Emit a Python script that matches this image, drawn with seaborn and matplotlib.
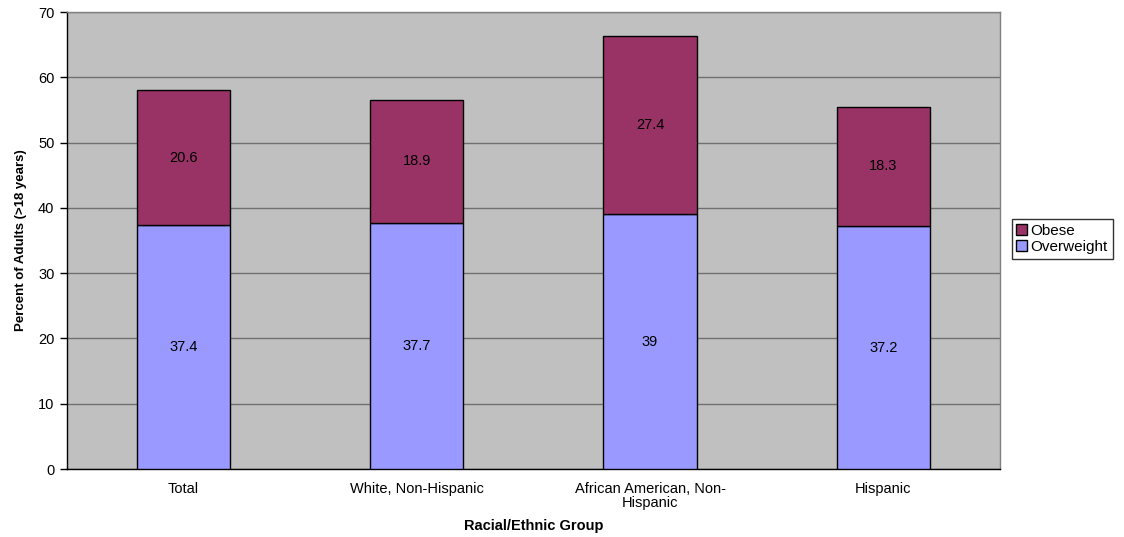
import numpy as np
import pandas as pd
import matplotlib
matplotlib.use("Agg")
import matplotlib.pyplot as plt
import seaborn as sns
from matplotlib.patches import Patch

# Data
groups = ["Total", "White, Non-Hispanic", "African American, Non-\nHispanic", "Hispanic"]
overweight = [37.4, 37.7, 39, 37.2]
obese = [20.6, 18.9, 27.4, 18.3]

df = pd.DataFrame({"Group": groups, "Overweight": overweight, "Obese": obese})

sns.set_style("white")
plt.rcParams['font.family'] = ['Liberation Sans', 'DejaVu Sans']
plt.rcParams['text.color'] = 'black'
plt.rcParams['axes.labelcolor'] = 'black'
plt.rcParams['xtick.color'] = 'black'
plt.rcParams['ytick.color'] = 'black'

blue = "#9999FF"
purple = "#993366"

fig = plt.figure(figsize=(11.24, 5.37), dpi=100)
ax = fig.add_axes([0.0596, 0.1266, 0.83, 0.851])
ax.set_facecolor("#C0C0C0")

sns.barplot(data=df, x="Group", y="Overweight", color=blue, width=0.4,
            edgecolor="black", linewidth=1, saturation=1, ax=ax, zorder=3)
sns.barplot(data=df, x="Group", y="Obese", bottom=df["Overweight"], color=purple, width=0.4,
            edgecolor="black", linewidth=1, saturation=1, ax=ax, zorder=3)

# value labels
for i in range(len(df)):
    ax.text(i, df["Overweight"][i] / 2, f"{df['Overweight'][i]:g}", ha="center", va="center", fontsize=10.5, zorder=4)
    ax.text(i, df["Overweight"][i] + df["Obese"][i] / 2, f"{df['Obese'][i]:g}", ha="center", va="center", fontsize=10.5, zorder=4)

ax.set_ylim(0, 70)
ax.set_xlim(-0.5, 3.5)
ax.set_yticks(range(0, 71, 10))
ax.yaxis.grid(True, color="#707070", linewidth=1, zorder=0)
ax.set_axisbelow(True)

# category ticks at boundaries
ax.set_xticks([0.5, 1.5, 2.5], minor=True)
ax.tick_params(axis="x", which="major", length=0, labelsize=10.5, pad=9)
ax.tick_params(axis="x", which="minor", length=5, width=1, direction="out", color="black")
ax.tick_params(axis="y", length=5, width=1, direction="out", labelsize=10.5, left=True, color="black", pad=4)
for lbl in ax.get_xticklabels():
    lbl.set_linespacing(1.0)

for s in ["left", "bottom"]:
    ax.spines[s].set_color("black")
    ax.spines[s].set_linewidth(1)
for s in ["top", "right"]:
    ax.spines[s].set_color("#808080")
    ax.spines[s].set_linewidth(1)

ax.set_xlabel("Racial/Ethnic Group", fontsize=10.5, fontweight="bold", labelpad=7)
ax.set_ylabel("Percent of Adults (>18 years)", fontsize=9.5, fontweight="bold", labelpad=8)

handles = [Patch(facecolor=purple, edgecolor="black", label="Obese"),
           Patch(facecolor=blue, edgecolor="black", label="Overweight")]
fig.legend(handles=handles, loc="center left", bbox_to_anchor=(0.9, 0.555), fontsize=11,
           frameon=True, fancybox=False, edgecolor="black", handlelength=0.7, handleheight=0.7,
           handletextpad=0.25, borderpad=0.3, labelspacing=0.15, borderaxespad=0)

fig.savefig("out.png", dpi=100)
